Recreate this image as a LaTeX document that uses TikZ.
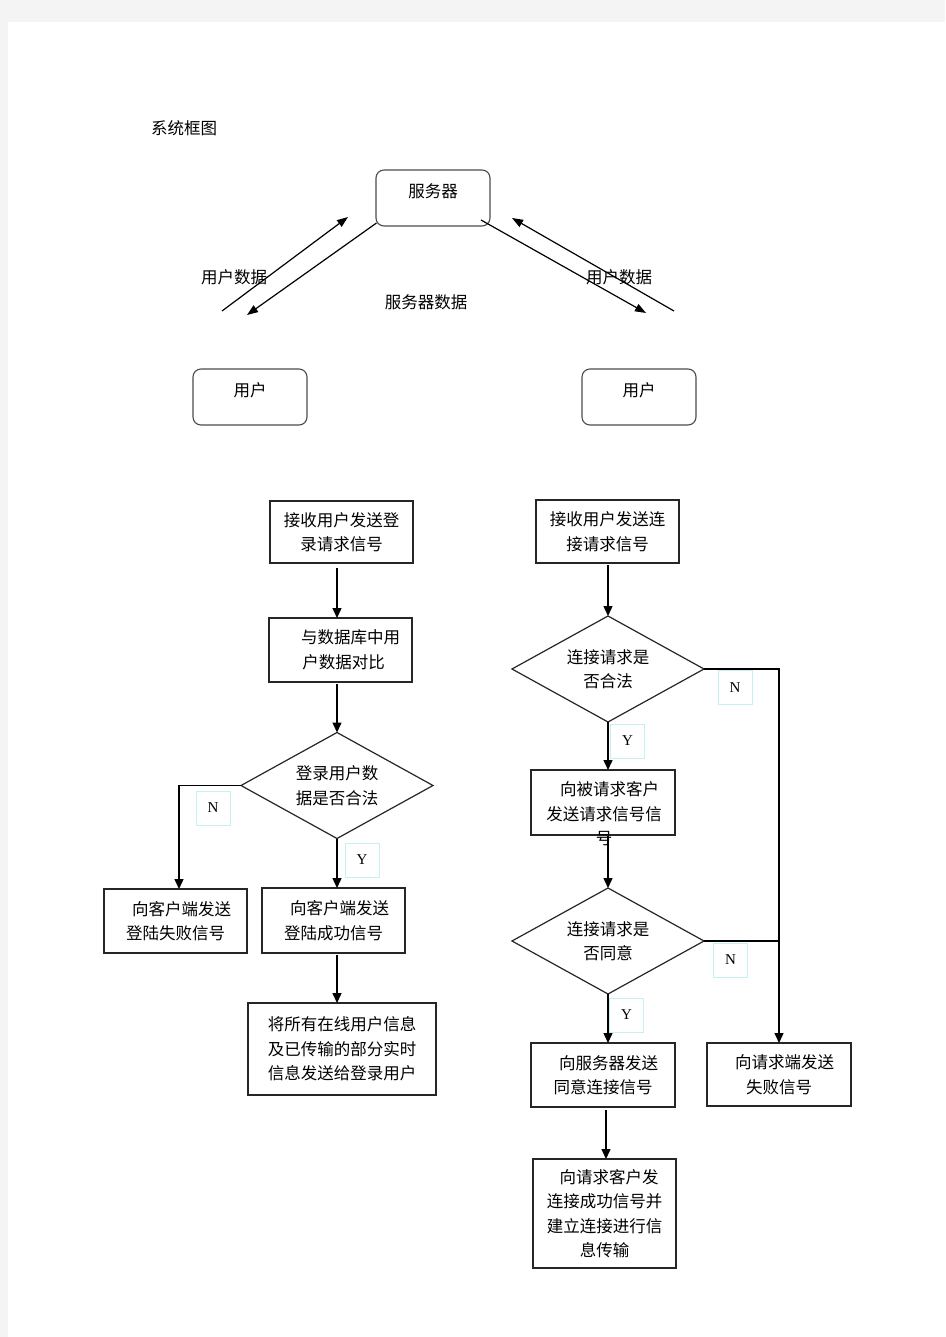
\documentclass[tikz,border=0pt]{standalone}
\usepackage{fontspec}
\setmainfont{Liberation Serif}
\newfontfamily\zhfont{Noto Sans CJK SC}
\usetikzlibrary{arrows.meta,shapes.geometric,calc}
\definecolor{pagegray}{HTML}{F4F4F4}
\definecolor{lblcyan}{HTML}{C4F2F2}
\newcommand\zhtext{\zhfont\fontsize{16.5pt}{24.5pt}\selectfont}
\begin{document}
\begin{tikzpicture}[x=1pt,y=-1pt,
  txt/.style={font=\zhtext, align=center, inner sep=0pt},
  rbox/.style={draw=black!70, line width=1.1pt, rounded corners=8pt, minimum width=114pt, minimum height=56pt, inner sep=0pt, font=\zhtext, text height=14.5pt, text depth=16pt},
  pbox/.style={draw=black!85, line width=1.2pt, inner sep=0pt, outer sep=0pt, font=\zhtext, align=center},
  dec/.style={pbox, shape=diamond, aspect=1.8, minimum width=192pt, minimum height=106pt},
  lbl/.style={draw=lblcyan, line width=0.9pt, minimum size=34pt, inner sep=0pt, font=\fontsize{15pt}{15pt}\selectfont},
  arr/.style={line width=1.4pt, -{Triangle[length=10pt,width=9pt]}},
  conn/.style={line width=1.4pt},
  tarr/.style={line width=1.2pt, -{Triangle[length=11pt,width=8pt]}}]
\useasboundingbox (0,0) rectangle (945,1337);
\fill[pagegray] (0,0) rectangle (945,1337);
\fill[white] (8,22) rectangle (945,1337);

% title
\node[txt, anchor=west] (title) at (151,128) {系统框图};

% system block diagram
\node[rbox] (srv) at (433,198) {服务器};
\node[rbox] (uL) at (250,397) {用户};
\node[rbox] (uR) at (639,397) {用户};
\node[txt] (lab1) at (234,277) {用户数据};
\node[txt] (lab2) at (426,302) {服务器数据};
\node[txt] (lab3) at (619,277) {用户数据};

\coordinate (a1s) at (222,311); \coordinate (a1e) at (348,217);
\coordinate (a2s) at (376.5,223); \coordinate (a2e) at (247,315);
\coordinate (a3s) at (481,220); \coordinate (a3e) at (646,313);
\coordinate (a4s) at (674,311); \coordinate (a4e) at (512,218);
\draw[tarr] (a1s) -- (a1e);
\draw[tarr] (a2s) -- (a2e);
\draw[tarr] (a3s) -- (a3e);
\draw[tarr] (a4s) -- (a4e);

% left flowchart
\node[pbox, minimum width=143pt, minimum height=62pt] (b1) at (341.5,532) {接收用户发送登\\录请求信号};
\node[pbox, minimum width=143pt, minimum height=64pt] (b2) at (340.5,650) {\hspace*{20pt}与数据库中用\\\hspace*{6pt}户数据对比};
\node[dec] (d1) at (337,785.5) {登录用户数\\据是否合法};
\node[pbox, minimum width=143pt, minimum height=64pt] (fail) at (175.5,921) {\hspace*{12pt}向客户端发送\\登陆失败信号};
\node[pbox, minimum width=143pt, minimum height=65pt] (succ) at (333.5,920.5) {\hspace*{12pt}向客户端发送\\登陆成功信号};
\node[pbox, minimum width=188pt, minimum height=92pt] (fin) at (342,1049) {将所有在线用户信息\\及已传输的部分实时\\信息发送给登录用户};

\node[lbl] (n1) at (213,808) {N};
\node[lbl] (y1) at (362,860) {Y};

\draw[arr] ($(b1.south -| d1.north)+(0,5)$) -- (b2.north -| d1.north);
\draw[arr] ($(b2.south -| d1.north)+(0,2)$) -- (d1.north);
\draw[arr] (d1.west) -| ($(fail.north)+(3.5,0)$);
\draw[arr] (d1.south) -- (d1.south |- succ.north);
\draw[arr] ($(succ.south -| d1.south)+(0,2)$) -- (fin.north -| d1.south);

% right flowchart
\node[pbox, minimum width=143pt, minimum height=63pt] (rb1) at (607.5,531.5) {接收用户发送连\\接请求信号};
\node[dec] (rd1) at (608,669) {连接请求是\\否合法};
\node[pbox, line width=2pt, minimum width=144pt, minimum height=65pt] (rb2) at (603,802.5) {};
\node[txt] (rb2t) at (604,814) {\hspace*{11pt}向被请求客户\\发送请求信号信\\号};
\node[dec] (rd2) at (608,941) {连接请求是\\否同意};
\node[pbox, line width=2pt, minimum width=144pt, minimum height=64pt] (rb3) at (603,1075) {\hspace*{11pt}向服务器发送\\同意连接信号};
\node[pbox, minimum width=144pt, minimum height=63pt] (failR) at (779,1074.5) {\hspace*{11pt}向请求端发送\\失败信号};
\node[pbox, minimum width=143pt, minimum height=109pt] (rb4) at (604.5,1213.5) {\hspace*{9pt}向请求客户发\\连接成功信号并\\建立连接进行信\\息传输};

\node[lbl] (n2) at (735,687.5) {N};
\node[lbl] (y2) at (627.5,741) {Y};
\node[lbl] (n3) at (730.5,960) {N};
\node[lbl] (y3) at (626.5,1015) {Y};

\draw[arr] ($(rb1.south -| rd1.north)+(0,2)$) -- (rd1.north);
\draw[arr] (rd1.south) -- (rd1.south |- rb2.north);
\draw[arr] ($(rb2.south -| rd1.south)+(0,1)$) -- (rd2.north);
\draw[arr] (rd2.south) -- (rd2.south |- rb3.north);
\draw[arr] ($(rb3.south)+(3,3)$) -- ($(rb4.north)+(1.5,0)$);
\draw[arr] (rd1.east) -| (failR.north);
\draw[conn] (rd2.east) -- (rd2.east -| failR.north);
\end{tikzpicture}
\end{document}
